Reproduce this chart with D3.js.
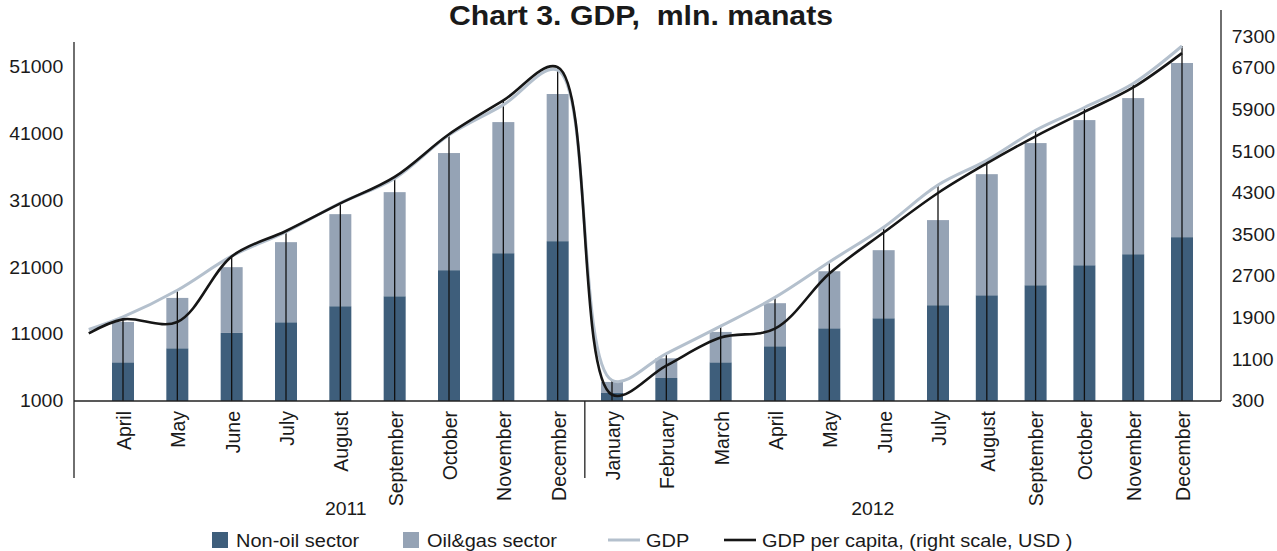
<!DOCTYPE html>
<html>
<head>
<meta charset="utf-8">
<script src="https://cdn.jsdelivr.net/npm/d3@7"></script>
<style>
  body { margin: 0; background: #fff; }
  text { font-family: "Liberation Sans", Arial, sans-serif; fill: #1a1a1a; }
</style>
</head>
<body>
<div id="chart"></div>
<script>
// data (mln. manats, cumulative since January)
var months2011 = ["April", "May", "June", "July", "August", "September", "October", "November", "December"];
var months2012 = ["January", "February", "March", "April", "May", "June", "July", "August",
                  "September", "October", "November", "December"];
var categories = months2011.concat(months2012);

var nonOil = [6790, 8890, 11180, 12780, 15180, 16670, 20570, 23110, 24910,
              2200, 4440, 6790, 9190, 11880, 13380, 15330, 16820, 18320, 21310, 22960, 25510];
var oilGas = [6030, 7530, 9840, 11980, 13770, 15570, 17520, 19610, 22010,
              1650, 2950, 4540, 6440, 8530, 10180, 12730, 18110, 21260, 21710, 23350, 26050];

// line series; first value is the lead-in point drawn left of April 2011
var gdp = [11700, 13575, 17570, 22660, 26300, 30600, 34300, 40800, 45300, 50500,
           4100, 8100, 12200, 16500, 21800, 27000, 33300, 37000, 41500, 44900, 48500, 54100];
var gdpPerCapita = [1600, 1870, 1820, 3080, 3570, 4100, 4610, 5430, 6080, 6720,
                    420, 980, 1520, 1690, 2750, 3540, 4300, 4870, 5390, 5860, 6330, 6990];

var leftTicks = [1000, 11000, 21000, 31000, 41000, 51000];
var rightTicks = [300, 1100, 1900, 2700, 3500, 4300, 5100, 5900, 6700, 7300];
var years = ["2011", "2012"];

// ---------------------------------------------------------------
var svgWidth = 1277, svgHeight = 551;
var SX = 1.08;          // source picture is stretched horizontally, text too
var baseY = 401;
var leftX = 74, rightX = 1221;

var svg = d3.select("#chart").append("svg")
  .attr("width", svgWidth)
  .attr("height", svgHeight);

// category positions (the source spacing gets tighter after July 2012)
var x = d3.scaleLinear().domain([0, 15, 20]).range([123, 938, 1182]);
var yL = d3.scaleLinear().domain([1000, 54700]).range([baseY, 42]).clamp(true);
var yR = d3.scaleLinear().domain([300, 7300]).range([baseY, 37]);
var barW = 22;

function stretched(sel) {
  return sel.attr("transform", function() {
    var t = d3.select(this).attr("transform");
    return (t ? t + " " : "") + "scale(" + SX + ",1)";
  });
}

// title
svg.append("text")
  .attr("transform", "translate(641,25) scale(" + SX + ",1)")
  .attr("text-anchor", "middle")
  .style("white-space", "pre")
  .style("font-size", "28px")
  .style("font-weight", "bold")
  .text("Chart 3. GDP,  mln. manats");

// stacked bars
var table = categories.map(function(c, i) {
  return { cat: c, nonOil: nonOil[i], oilGas: oilGas[i], i: i };
});
var stack = d3.stack().keys(["nonOil", "oilGas"])(table);
var barColors = { nonOil: "#3e5e7b", oilGas: "#95a3b5" };

svg.selectAll(".layer")
  .data(stack)
  .enter().append("g")
  .attr("class", "layer")
  .attr("fill", function(d) { return barColors[d.key]; })
  .selectAll("rect")
  .data(function(d) { return d; })
  .enter().append("rect")
  .attr("x", function(d) { return x(d.data.i) - barW / 2; })
  .attr("width", barW)
  .attr("y", function(d) { return yL(d[1]); })
  .attr("height", function(d) { return yL(d[0]) - yL(d[1]); });

// drop lines from the highest line point down to the axis
svg.append("g").selectAll("line")
  .data(categories)
  .enter().append("line")
  .attr("x1", function(d, i) { return x(i); })
  .attr("x2", function(d, i) { return x(i); })
  .attr("y1", baseY)
  .attr("y2", function(d, i) { return Math.min(yL(gdp[i + 1]), yR(gdpPerCapita[i + 1])); })
  .attr("stroke", "#111")
  .attr("stroke-width", 1.3);

// lines
svg.append("clipPath").attr("id", "plotClip")
  .append("rect")
  .attr("x", leftX).attr("y", 0)
  .attr("width", rightX - leftX).attr("height", baseY + 2);

var lineIdx = [-0.63].concat(d3.range(categories.length));

var gdpLine = d3.line()
  .x(function(d, i) { return x(lineIdx[i]); })
  .y(function(d) { return yL(d); })
  .curve(d3.curveCatmullRom);
var pcLine = d3.line()
  .x(function(d, i) { return x(lineIdx[i]); })
  .y(function(d) { return yR(d); })
  .curve(d3.curveCatmullRom);

var lines = svg.append("g").attr("clip-path", "url(#plotClip)");
lines.append("path")
  .attr("d", gdpLine(gdp))
  .attr("fill", "none")
  .attr("stroke", "#b4c0cd")
  .attr("stroke-width", 3);
lines.append("path")
  .attr("d", pcLine(gdpPerCapita))
  .attr("fill", "none")
  .attr("stroke", "#161616")
  .attr("stroke-width", 2.6);

// axes
var leftAxis = d3.axisLeft(yL).tickValues(leftTicks).tickSize(0).tickPadding(10)
  .tickFormat(d3.format("d"));
var gl = svg.append("g").attr("transform", "translate(" + leftX + ",0)").call(leftAxis);
gl.select(".domain").remove();
gl.selectAll("text").style("font-size", "18px").attr("font-family", null)
  .attr("transform", "scale(" + SX + ",1)").attr("x", -10);

var rightAxis = d3.axisRight(yR).tickValues(rightTicks).tickSize(0).tickPadding(10)
  .tickFormat(d3.format("d"));
var gr = svg.append("g").attr("transform", "translate(" + rightX + ",0)").call(rightAxis);
gr.select(".domain").remove();
gr.selectAll("text").style("font-size", "18px").attr("font-family", null)
  .attr("transform", "scale(" + SX + ",1)").attr("x", 10);

var bottomAxis = d3.axisBottom(x).tickValues(d3.range(categories.length)).tickSize(0)
  .tickFormat(function(i) { return categories[i]; });
var gb = svg.append("g").attr("transform", "translate(0," + baseY + ")").call(bottomAxis);
gb.select(".domain").remove();
gb.selectAll("text")
  .style("font-size", "19.5px").attr("font-family", null)
  .attr("transform", "scale(" + SX + ",1) rotate(-90)")
  .attr("text-anchor", "end")
  .attr("x", -10).attr("y", 0).attr("dy", "0.35em");

// axis lines and year group separators
var axisColor = "#222";
svg.append("line").attr("x1", leftX).attr("x2", leftX).attr("y1", 42).attr("y2", 478)
  .attr("stroke", axisColor).attr("stroke-width", 1.3);
svg.append("line").attr("x1", rightX).attr("x2", rightX).attr("y1", 10).attr("y2", baseY)
  .attr("stroke", axisColor).attr("stroke-width", 1.3);
svg.append("line").attr("x1", leftX).attr("x2", rightX).attr("y1", baseY).attr("y2", baseY)
  .attr("stroke", axisColor).attr("stroke-width", 1.3);
svg.append("line").attr("x1", x(8.5)).attr("x2", x(8.5)).attr("y1", baseY).attr("y2", 478)
  .attr("stroke", axisColor).attr("stroke-width", 1.3);

var yearPos = [4.1, 13.8];
svg.selectAll(".year")
  .data(years)
  .enter().append("text")
  .attr("class", "year")
  .attr("transform", function(d, i) { return "translate(" + x(yearPos[i]) + ",515) scale(" + SX + ",1)"; })
  .attr("text-anchor", "middle")
  .style("font-size", "18px")
  .text(function(d) { return d; });

// legend
var legend = [
  { label: "Non-oil sector", type: "rect", color: barColors.nonOil, x: 212 },
  { label: "Oil&gas sector", type: "rect", color: barColors.oilGas, x: 403 },
  { label: "GDP", type: "line", color: "#b4c0cd", x: 608, w: 3 },
  { label: "GDP per capita, (right scale, USD )", type: "line", color: "#161616", x: 724, w: 2.6 }
];
var lg = svg.append("g").selectAll("g")
  .data(legend)
  .enter().append("g")
  .attr("transform", function(d) { return "translate(" + d.x + ",0)"; });

lg.filter(function(d) { return d.type == "rect"; })
  .append("rect")
  .attr("x", 0).attr("y", 532).attr("width", 16).attr("height", 16)
  .attr("fill", function(d) { return d.color; });
lg.filter(function(d) { return d.type == "line"; })
  .append("line")
  .attr("x1", 0).attr("x2", 32).attr("y1", 540).attr("y2", 540)
  .attr("stroke", function(d) { return d.color; })
  .attr("stroke-width", function(d) { return d.w; });
lg.append("text")
  .attr("transform", function(d) {
    return "translate(" + (d.type == "rect" ? 24 : 38) + ",547) scale(" + SX + ",1)";
  })
  .style("font-size", "18.5px")
  .text(function(d) { return d.label; });
</script>
</body>
</html>
